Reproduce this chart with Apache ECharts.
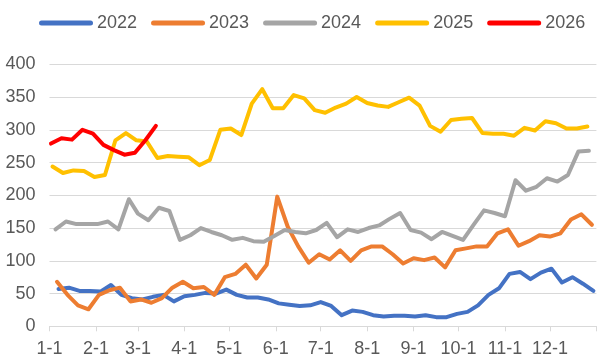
<!DOCTYPE html>
<html>
<head>
<meta charset="utf-8">
<script src="https://cdn.jsdelivr.net/npm/echarts@6/dist/echarts.min.js"></script>
<style>
html,body{margin:0;padding:0;background:#fff;}
#chart{width:606px;height:362px;}
</style>
</head>
<body>
<div id="chart"></div>
<script>
// ---- data ----
const seriesNames = ['2022', '2023', '2024', '2025', '2026'];
const seriesColors = ['#4472C4', '#ED7D31', '#A5A5A5', '#FFC000', '#FF0000'];
// first weekly observation date (month, day) of each year
const firstDates = [[1, 7], [1, 6], [1, 5], [1, 3], [1, 2]];
const monthLabels = ['1-1', '2-1', '3-1', '4-1', '5-1', '6-1', '7-1', '8-1', '9-1', '10-1', '11-1', '12-1'];
const yTicks = [0, 50, 100, 150, 200, 250, 300, 350, 400];

const y2022 = [57, 59, 54, 54, 53, 63, 48, 43, 41, 45, 48, 38, 46, 48, 51, 50, 56, 48, 44, 44,
  41, 35, 33, 31, 32, 37, 31, 17, 24, 22, 17, 15, 16, 16, 15, 17, 14, 14, 19, 22,
  32, 48, 58, 80, 83, 72, 82, 88, 67, 75, 65, 54];
const y2023 = [68, 48, 32, 26, 48, 55, 59, 38, 41, 36, 43, 59, 68, 58, 60, 48, 75, 80, 94, 73,
  94, 198, 152, 122, 97, 110, 102, 116, 100, 116, 122, 122, 110, 96, 104, 101, 105, 90, 116, 119,
  122, 122, 142, 148, 123, 130, 139, 137, 142, 163, 171, 155];
const y2024 = [148, 160, 156, 156, 156, 160, 148, 194, 172, 162, 181, 176, 132, 139, 150, 144, 139, 132, 135, 130,
  129, 138, 147, 144, 142, 147, 158, 136, 148, 144, 150, 154, 164, 173, 147, 143, 133, 144, 138, 132,
  155, 177, 173, 168, 223, 207, 213, 226, 221, 231, 267, 268];
const y2025 = [244, 234, 238, 237, 228, 231, 284, 295, 284, 282, 257, 260, 259, 258, 246, 254, 300, 302, 292, 340,
  362, 333, 333, 353, 348, 330, 326, 334, 340, 350, 341, 337, 335, 342, 349, 337, 306, 297, 315, 317,
  318, 295, 294, 294, 291, 303, 299, 313, 310, 302, 302, 305];
const y2026 = [279, 287, 285, 300, 294, 277, 269, 262, 265, 284, 306];
const yValues = [y2022, y2023, y2024, y2025, y2026];

// ---- helpers: map a calendar date onto a common (non-leap) year day axis ----
const DAY = 86400000;
const REF_YEAR = 2023;
function dayOfYear(month, day) {
  return (Date.UTC(REF_YEAR, month - 1, day) - Date.UTC(REF_YEAR, 0, 1)) / DAY;
}
const monthStarts = monthLabels.map(function (l) {
  const p = l.split('-');
  return dayOfYear(+p[0], +p[1]);
});
const yearEnd = dayOfYear(12, 31) + 1;

function buildPoints(idx) {
  const fd = firstDates[idx];
  const yr = +seriesNames[idx];
  const start = Date.UTC(yr, fd[0] - 1, fd[1]);
  return yValues[idx].map(function (v, i) {
    const d = new Date(start + i * 7 * DAY);
    return [dayOfYear(d.getUTCMonth() + 1, d.getUTCDate()), v];
  });
}

const FONT = 'Liberation Sans, Arial, sans-serif';
const TEXT = '#595959';
const capsule = 'path://M2.5,0 L51.5,0 A2.5,2.5 0 0 1 51.5,5 L2.5,5 A2.5,2.5 0 0 1 2.5,0 Z';

const chart = echarts.init(document.getElementById('chart'), null, { renderer: 'canvas' });
chart.setOption({
  animation: false,
  backgroundColor: '#ffffff',
  textStyle: { fontFamily: FONT },
  legend: {
    left: 34,
    top: 9,
    icon: capsule,
    itemWidth: 54,
    itemHeight: 5,
    itemGap: 14,
    textStyle: { color: TEXT, fontSize: 18, fontFamily: FONT, padding: [0, 0, 0, -1] },
    data: seriesNames.map(function (n, i) { return { name: n, itemStyle: { color: seriesColors[i] } }; })
  },
  grid: { left: 49.5, right: 9.6, top: 64.3, bottom: 35.7, containLabel: false },
  xAxis: {
    type: 'value',
    min: 0,
    max: yearEnd,
    axisLine: { show: true, lineStyle: { color: '#d9d9d9', width: 1 } },
    axisTick: { show: true, length: 5, lineStyle: { color: '#d9d9d9' }, customValues: monthStarts.concat([yearEnd]) },
    axisLabel: {
      color: TEXT, fontSize: 18, fontFamily: FONT, margin: 14,
      customValues: monthStarts,
      formatter: function (v) {
        const i = monthStarts.indexOf(v);
        return i >= 0 ? monthLabels[i] : '';
      }
    },
    splitLine: { show: false }
  },
  yAxis: {
    type: 'value',
    min: yTicks[0],
    max: yTicks[yTicks.length - 1],
    interval: yTicks[1] - yTicks[0],
    axisLine: { show: false },
    axisTick: { show: false },
    axisLabel: { color: TEXT, fontSize: 18, fontFamily: FONT, margin: 14 },
    splitLine: { show: true, lineStyle: { color: '#d9d9d9', width: 1 } }
  },
  series: seriesNames.map(function (n, i) {
    return {
      name: n,
      type: 'line',
      data: buildPoints(i),
      showSymbol: false,
      symbol: 'none',
      color: seriesColors[i],
      lineStyle: { color: seriesColors[i], width: 4, cap: 'round', join: 'round' },
      z: 2 + i
    };
  })
});
</script>
</body>
</html>
